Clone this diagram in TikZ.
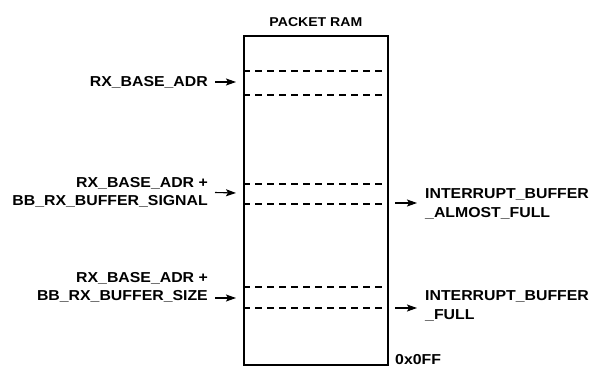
\documentclass[tikz,border=0pt]{standalone}
\usepackage{fontspec}
\setmainfont[FakeStretch=1.1]{Liberation Sans}
\usetikzlibrary{arrows.meta,positioning}

\begin{document}
\begin{tikzpicture}[x=1pt,y=-1pt,
    lbl/.style={font=\bfseries\fontsize{14.4}{18.3}\selectfont, inner sep=0pt},
    ptr/.style={-{Stealth[length=10pt,width=7pt,inset=2pt]}, line width=1.1pt},
    sep/.style={dash pattern=on 7pt off 5pt, line width=1.5pt}]

    \useasboundingbox (0,0) rectangle (592,367);

    % Packet RAM block
    \node[draw, line width=1.8pt, minimum width=144pt, minimum height=329pt,
          inner sep=0pt, anchor=north west] (ram) at (243,35) {};
    \node[font=\bfseries\fontsize{12.8}{15}\selectfont, inner sep=0pt,
          above=8pt of ram.north] (title) {PACKET RAM};

    % Buffer boundaries
    \foreach \y in {71,95,184,204,287,308}
        \draw[sep] (243,\y) -- (387,\y);

    % Left labels
    \node[lbl, anchor=east] (base) at (208,82) {RX\_BASE\_ADR};
    \node[lbl, anchor=east, align=right] (signal) at (208,192.5)
        {RX\_BASE\_ADR +\\BB\_RX\_BUFFER\_SIGNAL};
    \node[lbl, anchor=east, align=right] (size) at (208,287.5)
        {RX\_BASE\_ADR +\\BB\_RX\_BUFFER\_SIZE};

    \coordinate (base-in) at (236,82);
    \coordinate (signal-in) at (236,193);
    \coordinate (size-out) at (215,298);
    \coordinate (size-in) at (236,298);

    \draw[ptr] ([xshift=7pt]base.east) -- (base-in);
    \draw[ptr] ([xshift=7pt]signal.east) -- (signal-in);
    \draw[ptr] (size-out) -- (size-in);

    % Right labels
    \node[lbl, anchor=west, align=left] (almost) at (425,204)
        {INTERRUPT\_BUFFER\\\_ALMOST\_FULL};
    \node[lbl, anchor=west, align=left] (full) at (425,306)
        {INTERRUPT\_BUFFER\\\_FULL};

    \coordinate (almost-out) at (395,203);
    \coordinate (almost-in) at (417,203);
    \coordinate (full-out) at (395,308);
    \coordinate (full-in) at (417,308);

    \draw[ptr] (almost-out) -- (almost-in);
    \draw[ptr] (full-out) -- (full-in);

    % End address
    \node[lbl, anchor=base west] (end) at (395,364) {0x0FF};

\end{tikzpicture}
\end{document}
